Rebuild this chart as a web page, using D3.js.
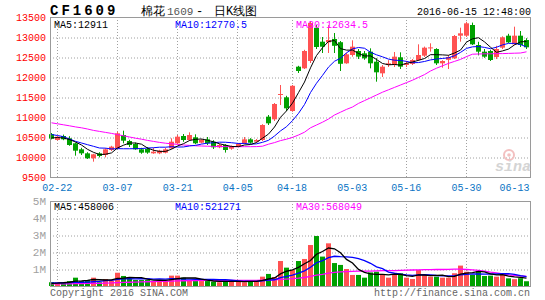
<!DOCTYPE html>
<html>
<head>
<meta charset="utf-8">
<script src="https://cdnjs.cloudflare.com/ajax/libs/d3/7.8.5/d3.min.js"></script>
<style>
body { margin: 0; background: #fff; }
text { font-family: "Liberation Mono", "DejaVu Sans Mono", monospace; }
</style>
</head>
<body>
<div id="chart-area"></div>
<script>
// Data
const dates = ["02-19","02-22","02-23","02-24","02-25","02-26","02-29","03-01","03-02","03-03",
  "03-04","03-07","03-08","03-09","03-10","03-11","03-14","03-15","03-16","03-17",
  "03-18","03-21","03-22","03-23","03-24","03-25","03-28","03-29","03-30","03-31",
  "04-01","04-05","04-06","04-07","04-08","04-11","04-12","04-13","04-14","04-15",
  "04-18","04-19","04-20","04-21","04-22","04-25","04-26","04-27","04-28","04-29",
  "05-03","05-04","05-05","05-06","05-09","05-10","05-11","05-12","05-13","05-16",
  "05-17","05-18","05-19","05-20","05-23","05-24","05-25","05-26","05-27","05-30",
  "05-31","06-01","06-02","06-03","06-06","06-07","06-08","06-13","06-14","06-15"]

const open = [10570,10425,10525,10467,10342,10192,10092,9967,10092,10050,
  10175,10217,10550,10400,10325,10192,10200,10092,10092,10108,
  10217,10342,10525,10425,10492,10358,10442,10383,10242,10300,
  10208,10258,10342,10442,10383,10425,11008,10942,11560,11492,
  11150,12258,12217,12400,13230,12883,12867,12950,12870,12342,
  12550,12650,12592,12633,12383,12092,12300,12300,12492,12300,
  12325,12425,12533,12720,12700,12342,12430,12467,13033,13033,
  13300,12800,12633,12650,12500,12733,13033,12817,13033,12925]
const high = [10600,10530,10560,10520,10360,10230,10120,10080,10120,10220,
  10280,10633,10658,10430,10360,10230,10250,10230,10180,10230,
  10467,10550,10575,10617,10567,10450,10500,10420,10330,10320,
  10290,10350,10500,10470,10450,10820,11050,11350,11800,11530,
  11800,12280,12680,13400,13300,13000,13300,13100,12900,12600,
  12917,12700,12650,12717,12470,12300,12420,12625,12617,12400,
  12450,12817,12760,12842,12720,12420,12550,13050,13233,13380,
  13360,12880,12700,12680,12780,13017,13080,13258,13150,12970]
const low = [10440,10410,10420,10280,10033,10050,9950,9883,9990,9992,
  10150,10200,10342,10250,10180,10080,10080,10080,10070,10090,
  10200,10320,10380,10400,10320,10340,10300,10200,10220,10110,
  10180,10240,10320,10330,10360,10400,10800,10900,11300,11150,
  11130,12100,12200,12350,12700,12600,12600,12600,12150,12330,
  12508,12450,12430,12217,11883,12000,12250,12250,12200,12250,
  12300,12400,12500,12633,12300,12233,12200,12450,12883,13000,
  12800,12540,12480,12400,12450,12700,12850,12800,12750,12700]
const close = [10460,10508,10442,10300,10158,10092,9967,10067,10025,10192,
  10258,10592,10408,10300,10192,10108,10110,10133,10158,10192,
  10383,10508,10425,10550,10342,10425,10342,10242,10300,10175,
  10258,10325,10442,10358,10425,10800,10842,11325,11575,11217,
  11780,12150,12650,13350,12750,12758,12925,12780,12330,12567,
  12758,12508,12467,12342,12117,12258,12342,12508,12258,12342,
  12425,12550,12733,12740,12342,12400,12500,13025,13092,13342,
  12817,12633,12508,12425,12700,12992,12867,13033,12800,12742]

const ma5 = [10475,10487,10475,10437,10374,10300,10192,10117,10062,10069,
  10102,10227,10295,10350,10350,10320,10224,10169,10140,10140,
  10195,10275,10333,10412,10442,10450,10417,10380,10330,10297,
  10263,10260,10300,10312,10362,10470,10573,10750,10993,11152,
  11348,11609,11874,12229,12536,12732,12887,12913,12709,12672,
  12672,12589,12526,12528,12438,12338,12305,12313,12297,12342,
  12375,12417,12462,12558,12558,12553,12543,12601,12672,12872,
  12955,12982,12878,12745,12617,12652,12698,12803,12878,12887]
const ma10 = [10562,10537,10508,10450,10392,10350,10308,10267,10225,10221,
  10201,10209,10206,10206,10209,10211,10225,10232,10245,10245,
  10258,10249,10251,10276,10291,10323,10346,10357,10371,10369,
  10357,10338,10340,10321,10329,10367,10417,10525,10653,10757,
  10909,11091,11312,11611,11844,12040,12248,12394,12469,12604,
  12702,12738,12719,12619,12555,12505,12447,12420,12413,12390,
  12357,12361,12388,12427,12450,12464,12480,12532,12615,12715,
  12754,12762,12740,12708,12744,12803,12840,12841,12812,12752]
const ma30 = [10855,10830,10805,10780,10752,10730,10700,10665,10640,10615,
  10590,10560,10530,10500,10470,10445,10415,10390,10365,10345,
  10330,10315,10300,10290,10280,10275,10270,10265,10262,10260,
  10258,10258,10258,10258,10260,10270,10320,10360,10410,10445,
  10490,10550,10620,10730,10800,10870,10950,11050,11120,11190,
  11250,11340,11410,11480,11550,11620,11680,11740,11800,11860,
  11920,11990,12060,12150,12220,12280,12340,12390,12440,12510,
  12570,12575,12580,12580,12585,12585,12590,12595,12600,12630]

// volume in millions
const volume = [0.22,0.22,0.22,0.29,0.49,0.29,0.35,0.49,0.22,0.41,
  0.31,0.78,0.59,0.41,0.35,0.35,0.35,0.29,0.35,0.29,
  0.61,0.61,0.49,0.35,0.29,0.29,0.29,0.25,0.22,0.29,
  0.29,0.29,0.22,0.29,0.29,0.55,0.71,0.53,1.47,1.08,
  0.94,1.47,1.59,2.41,2.94,1.73,2.51,1.35,1.24,1.00,
  0.65,0.65,0.49,0.80,0.84,0.65,0.49,0.69,0.75,0.49,
  0.41,0.94,0.65,0.55,0.55,0.49,0.49,0.75,1.20,0.84,
  0.65,0.88,0.59,0.61,0.55,0.70,0.45,0.40,0.46,0.28]
const volMa5 = [0.16,0.17,0.19,0.22,0.288,0.302,0.328,0.382,0.368,0.352,
  0.356,0.442,0.462,0.50,0.488,0.496,0.41,0.35,0.338,0.326,
  0.378,0.43,0.47,0.47,0.47,0.406,0.342,0.294,0.268,0.268,
  0.268,0.268,0.262,0.276,0.276,0.328,0.412,0.474,0.71,0.868,
  0.946,1.098,1.31,1.498,1.87,2.028,2.236,2.188,1.954,1.566,
  1.35,0.978,0.806,0.718,0.686,0.686,0.654,0.694,0.684,0.614,
  0.566,0.656,0.648,0.608,0.62,0.636,0.546,0.566,0.696,0.754,
  0.786,0.864,0.832,0.714,0.656,0.666,0.58,0.542,0.512,0.458]
const volMa10 = [0.18,0.18,0.19,0.20,0.21,0.22,0.23,0.25,0.27,0.32,
  0.329,0.385,0.422,0.434,0.42,0.426,0.426,0.406,0.419,0.407,
  0.437,0.42,0.41,0.404,0.398,0.392,0.386,0.382,0.369,0.369,
  0.337,0.305,0.278,0.272,0.272,0.298,0.34,0.368,0.493,0.572,
  0.637,0.755,0.892,1.104,1.369,1.487,1.667,1.749,1.726,1.718,
  1.689,1.607,1.497,1.336,1.126,1.018,0.816,0.75,0.701,0.65,
  0.626,0.655,0.671,0.646,0.617,0.601,0.601,0.607,0.652,0.687,
  0.711,0.705,0.699,0.705,0.705,0.726,0.722,0.687,0.613,0.557]
const volMa30 = [0.12,0.12,0.13,0.13,0.14,0.14,0.15,0.16,0.16,0.17,
  0.18,0.20,0.21,0.22,0.23,0.24,0.25,0.26,0.27,0.28,
  0.29,0.30,0.31,0.32,0.32,0.33,0.33,0.33,0.33,0.33,
  0.33,0.33,0.33,0.33,0.33,0.34,0.35,0.36,0.39,0.41,
  0.43,0.46,0.50,0.56,0.64,0.69,0.76,0.80,0.83,0.85,
  0.86,0.87,0.87,0.88,0.89,0.90,0.90,0.91,0.92,0.93,
  0.94,0.95,0.96,0.96,0.97,0.97,0.98,0.99,0.99,0.97,
  0.95,0.92,0.88,0.82,0.77,0.71,0.66,0.62,0.59,0.568]

const priceTicks = [9500,10000,10500,11000,11500,12000,12500,13000,13500]
const volTicks = [1,2,3,4,5]
const dateLabels = ["02-22","03-07","03-21","04-05","04-18","05-03","05-16","05-30","06-13"]
const gridDates = ["02-22","03-07","03-21","04-05","04-18","05-16","05-30"]

const RED = "#ff5252", GREEN = "#00a000"
const GRID = "#a0a0a0", BORDER = "#9a9a9a"

const PRICE = { LEFT: 50, RIGHT: 530, TOP: 17, BOTTOM: 177 }
const VOL = { LEFT: 50, RIGHT: 530, TOP: 201, BOTTOM: 286 }

const svg = d3.select("#chart-area").append("svg")
    .attr("width", 545)
    .attr("height", 300)

// Scales
const x = d3.scaleBand()
    .domain(dates)
    .range([49, 529])
    .paddingInner(0.22)
const BW = 5
const left = d => Math.round(x(d))
const mid = d => Math.round(x(d)) + BW / 2

const y = d3.scaleLinear()
    .domain([9500, 13500])
    .range([PRICE.BOTTOM, PRICE.TOP])
const yv = d3.scaleLinear()
    .domain([0, 5])
    .range([VOL.BOTTOM, VOL.TOP])

// Grids
function grid(top, bottom, scale, values) {
    const g = svg.append("g")
        .attr("transform", `translate(${PRICE.LEFT}, 0)`)
        .call(d3.axisLeft(scale).tickValues(values).tickSize(-(PRICE.RIGHT - PRICE.LEFT)).tickFormat(""))
    g.select(".domain").remove()
    g.selectAll("line").attr("stroke", GRID).attr("stroke-dasharray", "1,2")
        .attr("transform", "translate(0,0.5)")
    svg.append("g").selectAll("line")
        .data(gridDates)
        .enter().append("line")
        .attr("x1", d => Math.floor(x(d) + x.bandwidth() / 2) + 0.5)
        .attr("x2", d => Math.floor(x(d) + x.bandwidth() / 2) + 0.5)
        .attr("y1", top)
        .attr("y2", bottom)
        .attr("stroke", GRID)
        .attr("stroke-dasharray", "1,2")
}
grid(PRICE.TOP, PRICE.BOTTOM, y, priceTicks.slice(1, -1))
grid(VOL.TOP, VOL.BOTTOM, yv, volTicks.slice(0, -1))

// Price axis
const yAxis = svg.append("g")
    .attr("transform", `translate(${PRICE.LEFT}, 0)`)
    .call(d3.axisLeft(y).tickValues(priceTicks).tickSize(0).tickPadding(4).tickFormat(d3.format("d")))
yAxis.select(".domain").remove()
yAxis.selectAll("text").attr("fill", "#ff0000").attr("font-size", "10px")
    .attr("font-family", "Liberation Mono, monospace")

// Volume axis
const vAxis = svg.append("g")
    .attr("transform", `translate(${VOL.LEFT}, 0)`)
    .call(d3.axisLeft(yv).tickValues(volTicks).tickSize(0).tickPadding(4).tickFormat(d => d + "M"))
vAxis.select(".domain").remove()
vAxis.selectAll("text").attr("fill", "#a0a0a0").attr("font-size", "11px")
    .attr("font-family", "DejaVu Sans Mono, monospace")

// Date axis
const xAxis = svg.append("g")
    .attr("transform", `translate(0, ${PRICE.BOTTOM})`)
    .call(d3.axisBottom(x).tickValues(dateLabels).tickSize(0).tickPadding(7))
xAxis.select(".domain").remove()
xAxis.selectAll("text").attr("fill", "#0a74c4").attr("font-size", "10px")
    .attr("font-family", "Liberation Mono, monospace")

// Candles
const idx = d3.range(dates.length)
const up = i => close[i] >= open[i]
const candles = svg.append("g").selectAll("g")
    .data(idx)
    .enter().append("g")
candles.append("line")
    .attr("x1", i => mid(dates[i]))
    .attr("x2", i => mid(dates[i]))
    .attr("y1", i => y(high[i]))
    .attr("y2", i => y(low[i]))
    .attr("stroke", i => up(i) ? RED : GREEN)
candles.append("rect")
    .attr("x", i => left(dates[i]))
    .attr("width", BW)
    .attr("y", i => y(Math.max(open[i], close[i])))
    .attr("height", i => Math.max(1, Math.abs(y(open[i]) - y(close[i]))))
    .attr("fill", i => up(i) ? RED : GREEN)

// Volume bars
svg.append("g").selectAll("rect")
    .data(idx)
    .enter().append("rect")
    .attr("x", i => left(dates[i]))
    .attr("width", BW)
    .attr("y", i => yv(volume[i]))
    .attr("height", i => yv(0) - yv(volume[i]))
    .attr("fill", i => up(i) ? RED : GREEN)

// MA lines
function maLine(values, scale, colour, width) {
    svg.append("path")
        .datum(idx)
        .attr("fill", "none")
        .attr("stroke", colour)
        .attr("stroke-width", width)
        .attr("d", d3.line().x(i => mid(dates[i])).y(i => scale(values[i])))
}
maLine(ma30, y, "#ff00ff", 1)
maLine(ma10, y, "#0000ff", 1)
maLine(ma5, y, "#000000", 1)
maLine(volMa30, yv, "#ff00ff", 1.3)
maLine(volMa10, yv, "#0000ff", 1.3)
maLine(volMa5, yv, "#000000", 1.3)

// Borders
svg.append("rect").attr("x", PRICE.LEFT + 0.5).attr("y", PRICE.TOP + 0.5)
    .attr("width", PRICE.RIGHT - PRICE.LEFT).attr("height", PRICE.BOTTOM - PRICE.TOP)
    .attr("fill", "none").attr("stroke", BORDER)
svg.append("rect").attr("x", VOL.LEFT + 0.5).attr("y", VOL.TOP + 0.5)
    .attr("width", VOL.RIGHT - VOL.LEFT).attr("height", VOL.BOTTOM - VOL.TOP)
    .attr("fill", "none").attr("stroke", BORDER)

// MA labels
const maLabels = [
    { x: 54, text: "MA5:12911", c: "#000000" },
    { x: 175, text: "MA10:12770.5", c: "#0000ff" },
    { x: 296, text: "MA30:12634.5", c: "#ff00ff" }
]
const volLabels = [
    { x: 54, text: "MA5:458006", c: "#000000" },
    { x: 175, text: "MA10:521271", c: "#0000ff" },
    { x: 296, text: "MA30:568049", c: "#ff00ff" }
]
svg.selectAll("maLabel").data(maLabels).enter().append("text")
    .attr("x", d => d.x).attr("y", 28).attr("font-size", "10px")
    .attr("fill", d => d.c).text(d => d.text)
svg.selectAll("volLabel").data(volLabels).enter().append("text")
    .attr("x", d => d.x).attr("y", 210).attr("font-size", "10px")
    .attr("fill", d => d.c).text(d => d.text)

// Header
svg.append("text").attr("x", 50).attr("y", 15)
    .attr("font-size", "14px").attr("font-weight", "bold").attr("letter-spacing", "3px")
    .attr("font-family", "Liberation Mono, monospace")
    .text("CF1609")
svg.append("text").attr("x", 141).attr("y", 15)
    .attr("font-size", "12px").attr("font-family", "Noto Sans CJK SC")
    .text("棉花")
svg.append("text").attr("x", 167).attr("y", 15)
    .attr("font-size", "11px").attr("font-family", "Liberation Serif, serif").attr("fill", "#555")
    .text("1609")
svg.append("text").attr("x", 196).attr("y", 15)
    .attr("font-size", "12px").attr("font-family", "Noto Sans CJK SC")
    .text("-")
svg.append("text").attr("x", 214).attr("y", 15)
    .attr("font-size", "12px").attr("font-family", "Noto Sans CJK SC")
    .text("日K线图")
svg.append("text").attr("x", 531).attr("y", 15)
    .attr("font-size", "10px").attr("text-anchor", "end")
    .text("2016-06-15 12:48:00")

// Footer
svg.append("text").attr("x", 50).attr("y", 296)
    .attr("font-size", "10px").attr("fill", "#666")
    .text("Copyright 2016 SINA.COM")
svg.append("text").attr("x", 530).attr("y", 296)
    .attr("font-size", "10px").attr("fill", "#666").attr("text-anchor", "end")
    .text("http://finance.sina.com.cn")

// Watermark
const logo = svg.append("g").attr("transform", "translate(509, 155)")
logo.append("circle").attr("r", 5).attr("fill", "none").attr("stroke", "#f3c0c0").attr("stroke-width", 2)
logo.append("circle").attr("r", 1.8).attr("fill", "#f3c0c0")
svg.append("text").attr("x", 495).attr("y", 171)
    .attr("font-size", "15px").attr("font-weight", "bold").attr("font-style", "italic")
    .attr("font-family", "DejaVu Sans, sans-serif").attr("fill", "#d4d4d4")
    .text("sina")
</script>
</body>
</html>
